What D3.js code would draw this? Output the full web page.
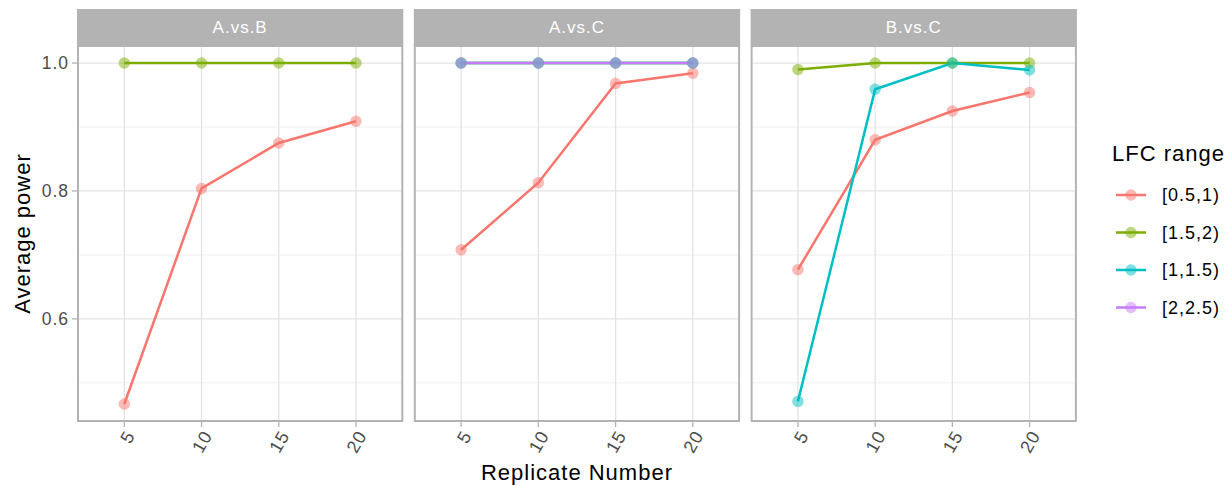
<!DOCTYPE html>
<html>
<head>
<meta charset="utf-8">
<script src="https://cdn.jsdelivr.net/npm/d3@7"></script>
<style>
  body { margin: 0; background: #fff; }
  svg { font-family: "Liberation Sans", Arial, sans-serif; letter-spacing: 1px; }
</style>
</head>
<body>
<svg id="chart" width="1227" height="486"></svg>
<script>
// facets, x categories, legend levels
var panels = ["A.vs.B", "A.vs.C", "B.vs.C"];
var replicates = [5, 10, 15, 20];
var lfcRanges = ["[0.5,1)", "[1.5,2)", "[1,1.5)", "[2,2.5)"];
var lfcColors = ["#F8766D", "#7CAE00", "#00BFC4", "#C77CFF"];
var yTicks = [0.6, 0.8, 1.0];
var yMinor = [0.5, 0.7, 0.9];

// average power per panel / LFC range (null = not present)
var abLow   = [0.467, 0.804, 0.875, 0.909];
var abMid2  = [1, 1, 1, 1];
var acLow   = [0.708, 0.813, 0.968, 0.984];
var acMid2  = [1, 1, 1, 1];
var acMid1  = [1, 1, 1, 1];
var acHigh  = [1, 1, 1, 1];
var bcLow   = [0.677, 0.880, 0.925, 0.954];
var bcMid2  = [0.990, 1, 1, 1];
var bcMid1  = [0.471, 0.959, 1, 0.989];

var panelSeries = [
	[abLow, abMid2, null, null],
	[acLow, acMid2, acMid1, acHigh],
	[bcLow, bcMid2, bcMid1, null]
];

var svg = d3.select("#chart");

var left = 78, panelW = 324.3, gap = 12.5;
var stripTop = 9, stripH = 37;
var panelTop = stripTop + stripH, panelBottom = 421;

// y domain like ggplot: data range + 5% each side
var allVals = [];
panelSeries.forEach(function(p){ p.forEach(function(s){ if(s) allVals.push(...s); }); });
var yMin = d3.min(allVals), yMax = d3.max(allVals);
var pad = (yMax - yMin) * 0.05;
var y = d3.scaleLinear().domain([yMin - pad, yMax + pad]).range([panelBottom, panelTop]);

var gridMajor = "#e3e3e3", gridMinor = "#eeeeee", borderCol = "#b3b3b3";

for(var p = 0; p < panels.length; p++){
	var x0 = left + p * (panelW + gap);
	var x = d3.scalePoint().domain(replicates).range([x0, x0 + panelW]).padding(0.6);
	var g = svg.append("g");

	// minor grid
	g.selectAll(".ymin").data(yMinor).enter().append("line")
		.attr("x1", x0).attr("x2", x0 + panelW)
		.attr("y1", function(d){ return y(d); }).attr("y2", function(d){ return y(d); })
		.attr("stroke", gridMinor).attr("stroke-width", 1);
	// major grid
	g.selectAll(".ymaj").data(yTicks).enter().append("line")
		.attr("x1", x0).attr("x2", x0 + panelW)
		.attr("y1", function(d){ return y(d); }).attr("y2", function(d){ return y(d); })
		.attr("stroke", gridMajor).attr("stroke-width", 1.3);
	g.selectAll(".xmaj").data(replicates).enter().append("line")
		.attr("x1", function(d){ return x(d); }).attr("x2", function(d){ return x(d); })
		.attr("y1", panelTop).attr("y2", panelBottom)
		.attr("stroke", gridMajor).attr("stroke-width", 1.3);

	// lines
	var line = d3.line()
		.x(function(d, i){ return x(replicates[i]); })
		.y(function(d){ return y(d); });
	var series = panelSeries[p];
	for(var s = 0; s < series.length; s++){
		if(!series[s]) continue;
		g.append("path").datum(series[s])
			.attr("d", line)
			.attr("fill", "none")
			.attr("stroke", lfcColors[s])
			.attr("stroke-width", 2.5);
	}
	// points
	for(var s = 0; s < series.length; s++){
		if(!series[s]) continue;
		g.selectAll(".pt" + s).data(series[s]).enter().append("circle")
			.attr("cx", function(d, i){ return x(replicates[i]); })
			.attr("cy", function(d){ return y(d); })
			.attr("r", 5.7)
			.attr("fill", lfcColors[s])
			.attr("fill-opacity", 0.5);
	}

	// border
	g.append("rect")
		.attr("x", x0).attr("y", panelTop).attr("width", panelW).attr("height", panelBottom - panelTop)
		.attr("fill", "none").attr("stroke", borderCol).attr("stroke-width", 2);

	// strip
	g.append("rect")
		.attr("x", x0 - 1).attr("y", stripTop).attr("width", panelW + 2).attr("height", stripH)
		.attr("fill", borderCol);
	g.append("text")
		.attr("x", x0 + panelW / 2).attr("y", stripTop + stripH / 2)
		.attr("dy", "0.35em").attr("text-anchor", "middle")
		.attr("fill", "#ffffff").attr("font-size", 17)
		.text(panels[p]);

	// x axis ticks and labels
	g.selectAll(".xt").data(replicates).enter().append("line")
		.attr("x1", function(d){ return x(d); }).attr("x2", function(d){ return x(d); })
		.attr("y1", panelBottom + 1).attr("y2", panelBottom + 6)
		.attr("stroke", borderCol).attr("stroke-width", 1.3);
	g.selectAll(".xl").data(replicates).enter().append("text")
		.attr("transform", function(d){ return "translate(" + (x(d) + 6) + "," + (panelBottom + 11) + ") rotate(-60)"; })
		.attr("text-anchor", "end").attr("dy", "0.35em")
		.attr("fill", "#4d4d4d").attr("font-size", 18)
		.text(function(d){ return d; });

	// y axis on first panel only
	if(p == 0){
		g.selectAll(".yt").data(yTicks).enter().append("line")
			.attr("x1", x0 - 6).attr("x2", x0 - 1)
			.attr("y1", function(d){ return y(d); }).attr("y2", function(d){ return y(d); })
			.attr("stroke", borderCol).attr("stroke-width", 1.3);
		g.selectAll(".yl").data(yTicks).enter().append("text")
			.attr("x", x0 - 9).attr("y", function(d){ return y(d); })
			.attr("dy", "0.35em").attr("text-anchor", "end")
			.attr("fill", "#4d4d4d").attr("font-size", 17.5)
			.text(function(d){ return d3.format(".1f")(d); });
	}
}

// axis titles
svg.append("text")
	.attr("x", left + (3 * panelW + 2 * gap) / 2).attr("y", 480)
	.attr("text-anchor", "middle").attr("font-size", 22).attr("fill", "#000")
	.text("Replicate Number");
svg.append("text")
	.attr("transform", "translate(30," + ((panelTop + panelBottom) / 2) + ") rotate(-90)")
	.attr("text-anchor", "middle").attr("font-size", 22).attr("fill", "#000")
	.text("Average power");

// legend
var lg = svg.append("g");
lg.append("text").attr("x", 1112).attr("y", 161).attr("font-size", 22).attr("fill", "#000").text("LFC range");
var keyY = d3.scalePoint().domain(lfcRanges).range([195, 307.5]);
lfcRanges.forEach(function(r, i){
	var ky = keyY(r);
	lg.append("line").attr("x1", 1116).attr("x2", 1146).attr("y1", ky).attr("y2", ky)
		.attr("stroke", lfcColors[i]).attr("stroke-width", 2.5);
	lg.append("circle").attr("cx", 1131).attr("cy", ky).attr("r", 5.7)
		.attr("fill", lfcColors[i]).attr("fill-opacity", 0.5);
	lg.append("text").attr("x", 1162).attr("y", ky).attr("dy", "0.35em")
		.attr("font-size", 18).attr("fill", "#000").text(r);
});
</script>
</body>
</html>
